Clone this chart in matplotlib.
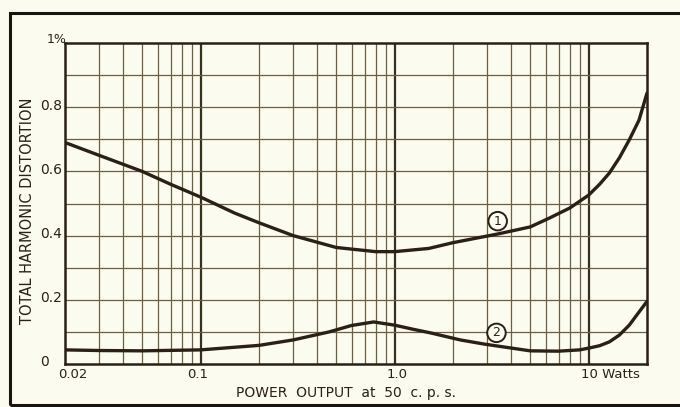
import matplotlib
matplotlib.use("Agg")
import matplotlib.pyplot as plt
from matplotlib.patches import Rectangle
from matplotlib.transforms import blended_transform_factory

# ---- data ----
power_1 = [0.02, 0.03, 0.05, 0.07, 0.1, 0.15, 0.2, 0.3, 0.5, 0.8, 1.0, 1.5, 2.0, 3.4, 5.0, 6.3, 8.0, 10.0, 11.4, 12.8, 14.4, 16.2, 18.2, 20.0]
thd_1 = [0.69, 0.65, 0.60, 0.56, 0.52, 0.47, 0.44, 0.40, 0.363, 0.35, 0.35, 0.36, 0.378, 0.405, 0.427, 0.455, 0.486, 0.526, 0.56, 0.595, 0.642, 0.698, 0.76, 0.844]

power_2 = [0.02, 0.03, 0.05, 0.1, 0.2, 0.3, 0.46, 0.6, 0.78, 1.0, 1.25, 1.53, 2.18, 2.9, 5.0, 7.0, 9.0, 10.1, 11.4, 12.8, 14.4, 16.2, 18.2, 20.0]
thd_2 = [0.044, 0.042, 0.041, 0.044, 0.058, 0.075, 0.100, 0.120, 0.131, 0.121, 0.108, 0.097, 0.075, 0.062, 0.041, 0.040, 0.044, 0.050, 0.057, 0.069, 0.090, 0.121, 0.162, 0.195]

x_ticks = [0.02, 0.1, 1.0, 10.0]
x_tick_labels = ["0.02", "0.1", "1.0", "10 Watts"]
y_ticks = [0, 0.2, 0.4, 0.6, 0.8, 1.0]
y_tick_labels = ["0", "0.2", "0.4", "0.6", "0.8", "1%"]

BG = "#fbfbef"
GRID = "#6e5e40"
INK = "#2a2018"

W, H = 680, 407
fig = plt.figure(figsize=(W / 100, H / 100), dpi=100, facecolor=BG)
ax = fig.add_axes([65 / W, 1 - 364 / H, (647 - 65) / W, (364 - 43) / H])
ax.set_facecolor(BG)
ax.set_xscale("log")
ax.set_xlim(0.02, 20)
ax.set_ylim(0, 1.0)

# grid lines
minor_x = []
for dec in [0.01, 0.1, 1.0, 10.0]:
    for m in range(2, 10):
        v = dec * m
        if 0.02 < v < 20 and v not in (0.1, 1.0, 10.0):
            minor_x.append(v)
for v in minor_x:
    ax.axvline(v, color=GRID, lw=0.9, zorder=1)
for v in [0.1, 1.0, 10.0]:
    ax.axvline(v, color="#3a2e1e", lw=1.6, zorder=1)
for i in range(1, 10):
    ax.axhline(i / 10, color=GRID, lw=0.9, zorder=1)

for s in ax.spines.values():
    s.set_color("#2a2018")
    s.set_linewidth(1.8)
ax.tick_params(left=False, bottom=False, which="both", labelleft=False, labelbottom=False)
ax.minorticks_off()

ax.plot(power_1, thd_1, color=INK, lw=2.4, zorder=3, solid_capstyle="round", solid_joinstyle="round")
ax.plot(power_2, thd_2, color=INK, lw=2.4, zorder=3, solid_capstyle="round", solid_joinstyle="round")

font = "DejaVu Sans"
tc = "#2a2018"

# circled curve labels
for txt, xv, yv in [("1", 3.4, 0.445), ("2", 3.35, 0.097)]:
    ax.text(xv, yv, txt, ha="center", va="center", fontsize=9, color=tc, family=font, zorder=5,
            bbox=dict(boxstyle="circle,pad=0.22", fc=BG, ec=tc, lw=1.4))

# y tick labels
ty = blended_transform_factory(fig.transFigure, ax.transData)
for v, lab in zip(y_ticks, y_tick_labels):
    if lab == "1%":
        ax.text(47 / W, v + 0.01, lab, transform=ty, ha="left", va="center", fontsize=9, color=tc, family=font)
    else:
        ax.text(40 / W, v + 0.005, lab, transform=ty, ha="left", va="center", fontsize=10, color=tc, family=font)

# x tick labels
tx = blended_transform_factory(ax.transData, fig.transFigure)
offsets = {"0.02": (-7, "left"), "0.1": (-3, "center"), "1.0": (2, "center"), "10 Watts": (-8, "left")}
for v, lab in zip(x_ticks, x_tick_labels):
    dx, ha = offsets[lab]
    ax.annotate(lab, xy=(v, 1 - 375 / H), xycoords=tx, xytext=(dx, 0), textcoords="offset pixels",
                ha=ha, va="center", fontsize=9.5, color=tc, family=font)

fig.text(346 / W, 1 - 393 / H, "POWER  OUTPUT  at  50  c. p. s.",
         ha="center", va="center", fontsize=10, color=tc, family=font)
fig.text(28 / W, 1 - 211 / H, "TOTAL HARMONIC DISTORTION", rotation=90, ha="center", va="center",
         fontsize=10.5, color=tc, family=font)

# outer frame of the figure
fig.add_artist(Rectangle((10 / W, 1 - 405 / H), 700 / W, (405 - 13) / H, transform=fig.transFigure,
                         fill=False, ec="#1a1410", lw=2.2, clip_on=False))

fig.savefig("out.png", dpi=100, facecolor=BG)
